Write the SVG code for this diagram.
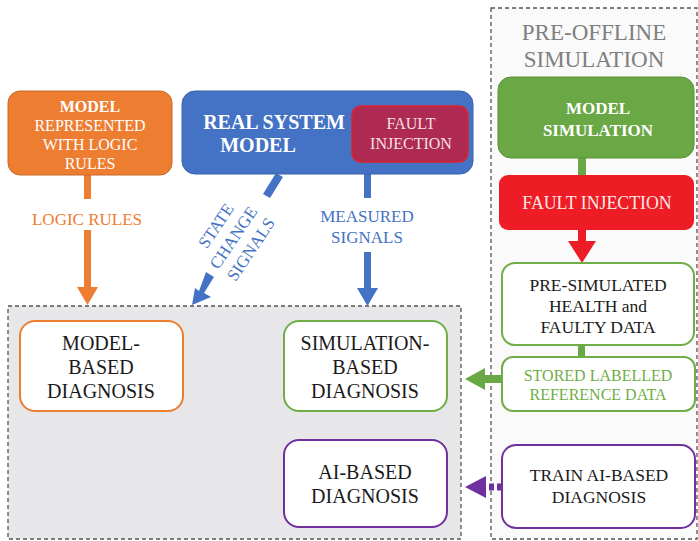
<svg xmlns="http://www.w3.org/2000/svg" width="698" height="541" viewBox="0 0 698 541" font-family="'Liberation Serif', 'DejaVu Serif', serif" text-anchor="middle">
<defs>
<style>
.w{fill:#fff}
.k{fill:#1a1a1a}
.frame{stroke:#555;stroke-width:1.3;stroke-dasharray:4 3}
.diag{fill:#fff;stroke-width:2}
</style>
</defs>
<rect width="698" height="541" fill="#fff"/>
<g id="pre-offline">
<rect class="frame" x="491" y="8" width="206" height="531" fill="#fafafa"/>
<text x="594" y="40" font-size="23" fill="#7f7f7f">PRE-OFFLINE</text>
<text x="594" y="67" font-size="23" fill="#7f7f7f">SIMULATION</text>
</g>
<g id="diagnosis-area">
<rect class="frame" x="8" y="306" width="453" height="233" fill="#e7e7e9"/>
</g>
<g id="connectors">
<g fill="#ED7D31">
<rect x="84" y="175" width="7" height="24"/>
<rect x="84" y="230" width="7" height="57"/>
<polygon points="77,287 98,287 87.5,305"/>
</g>
<text x="87" y="225" font-size="17" fill="#ED7D31">LOGIC RULES</text>
<g fill="#4472C4">
<polygon points="276,173 283,177 270,198 263,194"/>
<polygon points="206,272 214,277 204,293 211,297 192,305 195,288 199,291"/>
<rect x="364" y="174" width="7" height="24"/>
<rect x="364" y="252" width="7" height="36"/>
<polygon points="357,288 378,288 367.5,306"/>
</g>
<text transform="translate(234,238) rotate(-56)" font-size="17" fill="#4472C4"><tspan x="0" y="-16">STATE</tspan><tspan x="0" y="5">CHANGE</tspan><tspan x="0" y="26">SIGNALS</tspan></text>
<text x="367" y="222" font-size="17" fill="#4472C4">MEASURED</text>
<text x="367" y="243" font-size="17" fill="#4472C4">SIGNALS</text>
<rect x="578" y="157" width="8" height="19" fill="#6AA745"/>
<rect x="578" y="229" width="8" height="13" fill="#EE1C25"/>
<polygon points="568,241 596,241 582,263" fill="#EE1C25"/>
<rect x="578" y="344" width="7" height="14" fill="#6AA745"/>
<rect x="482" y="375" width="21" height="8" fill="#6AA745"/>
<polygon points="485,368 485,390 465,379" fill="#6AA745"/>
<line x1="502" y1="487" x2="482" y2="487" stroke="#7030A0" stroke-width="7" stroke-dasharray="5 3"/>
<polygon points="486,476 486,498 465,487" fill="#7030A0"/>
</g>
<g id="logic-model">
<rect x="8" y="91" width="164" height="84" rx="12" fill="#ED7D31" stroke="#c9692a" stroke-width="1"/>
<text x="90" y="112" font-size="16" font-weight="bold" class="w">MODEL</text>
<text x="90" y="131" font-size="16" class="w">REPRESENTED</text>
<text x="90" y="150" font-size="16" class="w">WITH LOGIC</text>
<text x="90" y="169" font-size="16" class="w">RULES</text>
</g>
<g id="real-system">
<rect x="182" y="91" width="291" height="83" rx="13" fill="#4472C4" stroke="#3a63ab" stroke-width="1"/>
<text x="274" y="129" font-size="20" font-weight="bold" class="w">REAL SYSTEM</text>
<text x="258" y="152" font-size="20" font-weight="bold" class="w">MODEL</text>
</g>
<g id="fault-injection-real">
<rect x="352" y="106" width="116" height="56" rx="9" fill="#AE2A52" stroke="#E0202E" stroke-width="1.5"/>
<text x="411" y="129" font-size="16" fill="#f6e0e6">FAULT</text>
<text x="411" y="149" font-size="16" fill="#f6e0e6">INJECTION</text>
</g>
<g id="model-simulation">
<rect x="498" y="77" width="196" height="81" rx="13" fill="#6AA745" stroke="#5a9139" stroke-width="1"/>
<text x="598" y="114" font-size="17" font-weight="bold" class="w">MODEL</text>
<text x="598" y="136" font-size="17" font-weight="bold" class="w">SIMULATION</text>
</g>
<g id="fault-injection-sim">
<rect x="499" y="175" width="195" height="55" rx="9" fill="#EE1C25"/>
<text x="597" y="209" font-size="17.8" fill="#fde8e8">FAULT INJECTION</text>
</g>
<g id="pre-simulated">
<rect x="502" y="263" width="192" height="82" rx="13" fill="#fff" stroke="#70AD47" stroke-width="2"/>
<text x="598" y="291" font-size="17.5" class="k">PRE-SIMULATED</text>
<text x="598" y="312" font-size="17.5" class="k">HEALTH and</text>
<text x="598" y="333" font-size="17.5" class="k">FAULTY DATA</text>
</g>
<g id="stored-reference">
<rect x="502" y="357" width="193" height="54" rx="11" fill="#fff" stroke="#70AD47" stroke-width="2"/>
<text x="598" y="381" font-size="16" fill="#70AD47">STORED LABELLED</text>
<text x="598" y="400" font-size="16" fill="#70AD47">REFERENCE DATA</text>
</g>
<g id="train-ai">
<rect x="502" y="445" width="193" height="83" rx="14" fill="#fff" stroke="#7030A0" stroke-width="2"/>
<text x="599" y="481" font-size="17.5" class="k">TRAIN AI-BASED</text>
<text x="599" y="503" font-size="17.5" class="k">DIAGNOSIS</text>
</g>
<g id="model-based">
<rect class="diag" x="20" y="321" width="163" height="90" rx="15" stroke="#ED7D31"/>
<text x="101" y="350" font-size="20" class="k">MODEL-</text>
<text x="101" y="374" font-size="20" class="k">BASED</text>
<text x="101" y="398" font-size="20" class="k">DIAGNOSIS</text>
</g>
<g id="simulation-based">
<rect class="diag" x="284" y="321" width="163" height="90" rx="15" stroke="#70AD47"/>
<text x="365" y="350" font-size="20" class="k">SIMULATION-</text>
<text x="365" y="374" font-size="20" class="k">BASED</text>
<text x="365" y="398" font-size="20" class="k">DIAGNOSIS</text>
</g>
<g id="ai-based">
<rect class="diag" x="284" y="440" width="163" height="87" rx="15" stroke="#7030A0"/>
<text x="365" y="479" font-size="20" class="k">AI-BASED</text>
<text x="365" y="503" font-size="20" class="k">DIAGNOSIS</text>
</g>
</svg>
